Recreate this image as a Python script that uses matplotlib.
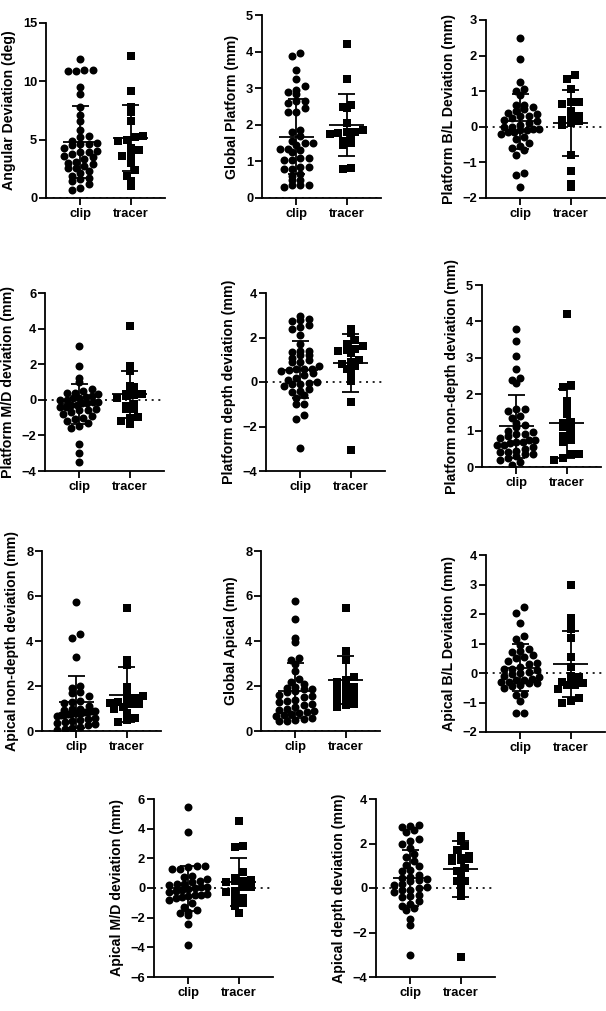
import matplotlib.pyplot as plt
import numpy as np

plt.rcParams['font.family'] = ['Liberation Sans', 'DejaVu Sans']
plt.rcParams['font.weight'] = 'bold'
plt.rcParams['axes.labelweight'] = 'bold'

groups = ['clip', 'tracer']

# --- values (clip / tracer, mean, SD) ---
angular_clip = [11.9, 11.0, 10.9, 10.9, 11.0, 9.5, 8.9, 7.8, 7.1, 6.6, 5.8, 5.3, 5.2, 4.9, 4.7,
                4.6, 4.6, 4.5, 4.3, 4.0, 3.9, 3.9, 3.8, 3.6, 3.5, 3.3, 3.1, 3.0, 2.9, 2.7, 2.6,
                2.6, 2.3, 2.1, 1.9, 1.7, 1.6, 1.5, 1.2, 0.9, 0.7]
angular_tracer = [12.2, 9.2, 7.8, 7.4, 6.6, 5.3, 5.2, 5.0, 4.9, 4.3, 4.1, 3.7, 3.6, 3.0, 2.4,
                  1.9, 1.5, 1.0]
angular_mean = [4.8, 5.15]
angular_sd = [3.05, 2.85]

gplat_clip = [3.95, 3.88, 3.5, 3.25, 3.05, 2.95, 2.9, 2.85, 2.65, 2.6, 2.65, 2.35, 2.35, 2.45,
              1.85, 1.8, 1.7, 1.55, 1.5, 1.5, 1.45, 1.35, 1.35, 1.3, 1.25, 1.1, 1.1, 1.05, 1.05,
              0.85, 0.85, 0.8, 0.8, 0.65, 0.6, 0.5, 0.5, 0.35, 0.35, 0.35, 0.3]
gplat_tracer = [4.22, 3.25, 2.55, 2.5, 2.45, 2.05, 1.85, 1.8, 1.8, 1.78, 1.75, 1.65, 1.55, 1.5,
                1.45, 0.82, 0.78]
gplat_mean = [1.68, 2.0]
gplat_sd = [1.02, 0.84]

pbl_clip = [2.5, 1.9, 1.25, 1.05, 1.0, 0.9, 0.6, 0.6, 0.55, 0.5, 0.45, 0.4, 0.35, 0.3, 0.3, 0.25,
            0.2, 0.15, 0.1, 0.05, 0.0, 0.0, -0.05, -0.05, -0.1, -0.1, -0.15, -0.15, -0.2, -0.3,
            -0.35, -0.45, -0.55, -0.6, -0.65, -0.8, -1.3, -1.35, -1.7]
pbl_tracer = [1.45, 1.35, 1.05, 0.7, 0.7, 0.65, 0.45, 0.3, 0.25, 0.2, 0.15, 0.1, 0.05, -0.8,
              -1.25, -1.6, -1.7]
pbl_mean = [0.15, 0.1]
pbl_sd = [0.78, 0.92]

pmd_clip = [3.0, 1.9, 1.2, 1.0, 0.6, 0.5, 0.4, 0.4, 0.3, 0.2, 0.15, 0.1, 0.1, 0.0, 0.0, -0.1,
            -0.1, -0.2, -0.2, -0.3, -0.3, -0.4, -0.4, -0.5, -0.6, -0.6, -0.7, -0.8, -0.9, -1.0,
            -1.1, -1.2, -1.3, -1.5, -1.6, -2.5, -3.0, -3.5]
pmd_tracer = [4.15, 1.9, 1.6, 0.75, 0.7, 0.35, 0.3, 0.25, 0.2, 0.1, -0.25, -0.35, -0.5, -0.5,
              -0.95, -1.0, -1.2, -1.35]
pmd_mean = [-0.25, 0.3]
pmd_sd = [1.12, 1.32]

pdepth_clip = [2.95, 2.85, 2.8, 2.75, 2.45, 2.4, 2.55, 2.1, 1.7, 1.4, 1.4, 1.35, 1.2, 1.2, 1.1,
               1.0, 0.9, 0.9, 0.7, 0.6, 0.6, 0.6, 0.55, 0.5, 0.4, 0.3, 0.2, 0.1, 0.0, -0.05, -0.1,
               -0.1, -0.2, -0.3, -0.4, -0.45, -0.6, -0.7, -1.0, -1.0, -1.5, -1.65, -2.95]
pdepth_tracer = [2.4, 2.2, 1.9, 1.7, 1.6, 1.5, 1.45, 1.4, 1.3, 1.0, 0.9, 0.8, 0.7, 0.6, 0.35,
                 0.05, -0.9, -3.05]
pdepth_mean = [0.55, 0.87]
pdepth_sd = [1.28, 1.3]

pnon_clip = [3.8, 3.45, 3.05, 2.7, 2.45, 2.4, 2.3, 1.6, 1.6, 1.55, 1.4, 1.35, 1.2, 1.15, 1.1,
             1.0, 0.95, 0.9, 0.9, 0.85, 0.8, 0.75, 0.75, 0.7, 0.7, 0.65, 0.6, 0.6, 0.55, 0.5,
             0.45, 0.4, 0.4, 0.35, 0.35, 0.3, 0.25, 0.2, 0.15, 0.05]
pnon_tracer = [4.2, 2.25, 2.2, 1.8, 1.65, 1.45, 1.25, 1.2, 1.15, 1.1, 0.95, 0.85, 0.75, 0.7,
               0.35, 0.35, 0.25, 0.2]
pnon_mean = [1.12, 1.2]
pnon_sd = [0.87, 0.95]

anon_clip = [5.75, 4.3, 4.15, 3.3, 2.0, 1.9, 1.75, 1.7, 1.55, 1.35, 1.3, 1.25, 1.1, 1.0, 1.0,
             0.95, 0.9, 0.9, 0.85, 0.85, 0.8, 0.8, 0.8, 0.75, 0.75, 0.7, 0.7, 0.65, 0.6, 0.55,
             0.5, 0.45, 0.4, 0.35, 0.3, 0.25, 0.2, 0.15, 0.1, 0.05]
anon_tracer = [5.45, 3.15, 2.95, 1.95, 1.7, 1.55, 1.45, 1.35, 1.3, 1.25, 1.2, 1.2, 1.05, 1.0,
               0.8, 0.6, 0.5, 0.4]
anon_mean = [1.3, 1.62]
anon_sd = [1.15, 1.22]

gapi_clip = [5.8, 5.0, 4.15, 3.95, 3.25, 3.15, 3.0, 2.65, 2.3, 2.2, 2.1, 1.95, 1.9, 1.85, 1.85,
             1.8, 1.75, 1.6, 1.55, 1.5, 1.4, 1.35, 1.3, 1.2, 1.15, 1.05, 1.0, 0.95, 0.9, 0.85,
             0.8, 0.75, 0.7, 0.65, 0.6, 0.55, 0.5, 0.45, 0.45]
gapi_tracer = [5.45, 3.55, 3.15, 2.4, 2.25, 2.2, 1.95, 1.95, 1.9, 1.85, 1.7, 1.65, 1.55, 1.4,
               1.3, 1.2, 1.15, 1.05]
gapi_mean = [1.8, 2.28]
gapi_sd = [1.23, 1.07]

abl_clip = [2.25, 2.05, 1.7, 1.25, 1.15, 0.95, 0.8, 0.75, 0.7, 0.6, 0.55, 0.5, 0.4, 0.35, 0.3,
            0.2, 0.15, 0.15, 0.1, 0.05, 0.0, -0.05, -0.1, -0.15, -0.2, -0.25, -0.25, -0.3, -0.3,
            -0.35, -0.35, -0.4, -0.45, -0.5, -0.7, -0.75, -0.95, -1.35, -1.35]
abl_tracer = [3.0, 1.85, 1.6, 1.5, 1.2, 0.55, 0.2, -0.1, -0.15, -0.15, -0.3, -0.35, -0.4, -0.4,
              -0.55, -0.85, -0.95, -1.0]
abl_mean = [0.18, 0.3]
abl_sd = [0.8, 1.12]

amd_clip = [5.45, 3.75, 1.5, 1.45, 1.4, 1.3, 1.25, 0.8, 0.75, 0.6, 0.5, 0.4, 0.3, 0.25, 0.2,
            0.1, 0.05, 0.0, -0.1, -0.15, -0.2, -0.3, -0.4, -0.45, -0.5, -0.55, -0.6, -0.7, -0.8,
            -1.0, -1.25, -1.45, -1.6, -1.7, -1.85, -2.45, -3.85]
amd_tracer = [4.5, 2.8, 2.75, 1.05, 0.65, 0.55, 0.5, 0.45, 0.4, 0.1, 0.05, -0.2, -0.3, -0.7,
              -0.75, -1.0, -1.2, -1.7]
amd_mean = [-0.02, 0.42]
amd_sd = [1.52, 1.6]

adepth_clip = [2.85, 2.8, 2.75, 2.6, 2.5, 2.2, 2.1, 2.0, 1.8, 1.55, 1.4, 1.2, 1.05, 1.0, 0.8,
               0.75, 0.6, 0.5, 0.45, 0.4, 0.35, 0.3, 0.2, 0.15, 0.05, 0.0, -0.1, -0.1, -0.2,
               -0.3, -0.35, -0.4, -0.6, -0.7, -0.8, -0.9, -1.0, -1.4, -1.65, -3.0]
adepth_tracer = [2.35, 2.1, 1.9, 1.7, 1.45, 1.35, 1.35, 1.3, 1.25, 1.2, 0.9, 0.75, 0.6, 0.3,
                 0.3, -0.05, -0.35, -3.1]
adepth_mean = [0.45, 0.86]
adepth_sd = [1.27, 1.25]

# label, (ymin, ymax, step), (spine x px, top px, bottom px)
panels = [
    (angular_clip, angular_tracer, angular_mean, angular_sd, 'Angular Deviation (deg)', (0, 15, 5), (46, 23, 198)),
    (gplat_clip, gplat_tracer, gplat_mean, gplat_sd, 'Global Platform (mm)', (0, 5, 1), (262, 15, 198)),
    (pbl_clip, pbl_tracer, pbl_mean, pbl_sd, 'Platform B/L Deviation (mm)', (-2, 3, 1), (486, 20, 198)),
    (pmd_clip, pmd_tracer, pmd_mean, pmd_sd, 'Platform M/D deviation (mm)', (-4, 6, 2), (45, 293, 471)),
    (pdepth_clip, pdepth_tracer, pdepth_mean, pdepth_sd, 'Platform depth deviation (mm)', (-4, 4, 2), (266, 293, 471)),
    (pnon_clip, pnon_tracer, pnon_mean, pnon_sd, 'Platform non-depth deviation (mm)', (0, 5, 1), (482, 285, 467)),
    (anon_clip, anon_tracer, anon_mean, anon_sd, 'Apical non-depth deviation (mm)', (0, 8, 2), (42, 551, 731)),
    (gapi_clip, gapi_tracer, gapi_mean, gapi_sd, 'Global Apical (mm)', (0, 8, 2), (261, 551, 731)),
    (abl_clip, abl_tracer, abl_mean, abl_sd, 'Apical B/L Deviation (mm)', (-2, 4, 1), (486, 555, 732)),
    (amd_clip, amd_tracer, amd_mean, amd_sd, 'Apical M/D deviation (mm)', (-6, 6, 2), (154, 799, 977)),
    (adepth_clip, adepth_tracer, adepth_mean, adepth_sd, 'Apical depth deviation (mm)', (-4, 4, 2), (376, 799, 977)),
]

W, H = 606, 1011
AX_W = 119
XLIM = (-0.68, 1.68)
PX_PER_X = AX_W / (XLIM[1] - XLIM[0])


def rows_scatter(values, y0, px_per_y, diam=8.3, row_h=7.0, max_half=19.0):
    # prism-like scatter: bin points into rows, spread each row sideways
    bins = np.floor((values - y0) * px_per_y / row_h).astype(int)
    offs = np.zeros(len(values))
    for b in np.unique(bins):
        idx = np.where(bins == b)[0]
        idx = idx[np.argsort(values[idx])]
        n = len(idx)
        gap = diam if n < 2 else min(diam, 2 * max_half / (n - 1))
        offs[idx] = (np.arange(n) - (n - 1) / 2) * gap
    return offs / PX_PER_X


fig = plt.figure(figsize=(W / 100, H / 100), dpi=100)

for clip, tracer, mean, sd, label, (y0, y1, step), (left, top, bottom) in panels:
    ax = fig.add_axes([left / W, 1 - bottom / H, AX_W / W, (bottom - top) / H])
    ax.set_xlim(*XLIM)
    ax.set_ylim(y0, y1)
    px_per_y = (bottom - top) / (y1 - y0)

    ax.axhline(0, color='black', lw=1.2, ls=(0, (1.2, 2.8)), zorder=1)

    for g, (vals, mk, s) in enumerate([(clip, 'o', 33), (tracer, 's', 27)]):
        vals = np.array(vals)
        xs = g + rows_scatter(vals, y0, px_per_y)
        ax.scatter(xs, vals, marker=mk, s=s, color='black', linewidths=0, zorder=2)
        m, d = mean[g], sd[g]
        ax.hlines(m, g - 0.35, g + 0.35, color='black', lw=1.3, zorder=3)
        ax.vlines(g, m - d, m + d, color='black', lw=1.3, zorder=3)
        ax.hlines([m - d, m + d], g - 0.17, g + 0.17, color='black', lw=1.3, zorder=3)

    ax.spines['top'].set_visible(False)
    ax.spines['right'].set_visible(False)
    for sp in ['left', 'bottom']:
        ax.spines[sp].set_linewidth(1.3)
    ax.set_xticks([0, 1])
    ax.set_xticklabels(groups)
    ax.set_yticks(np.arange(y0, y1 + step / 2, step))
    ax.tick_params(axis='y', length=4.8, width=1.3, pad=1.5, labelsize=9.3)
    ax.tick_params(axis='x', length=5, width=1.3, pad=2.5, labelsize=9.3)
    ax.set_ylabel(label, fontsize=10.2, labelpad=5)

fig.savefig('out.png', dpi=100)
